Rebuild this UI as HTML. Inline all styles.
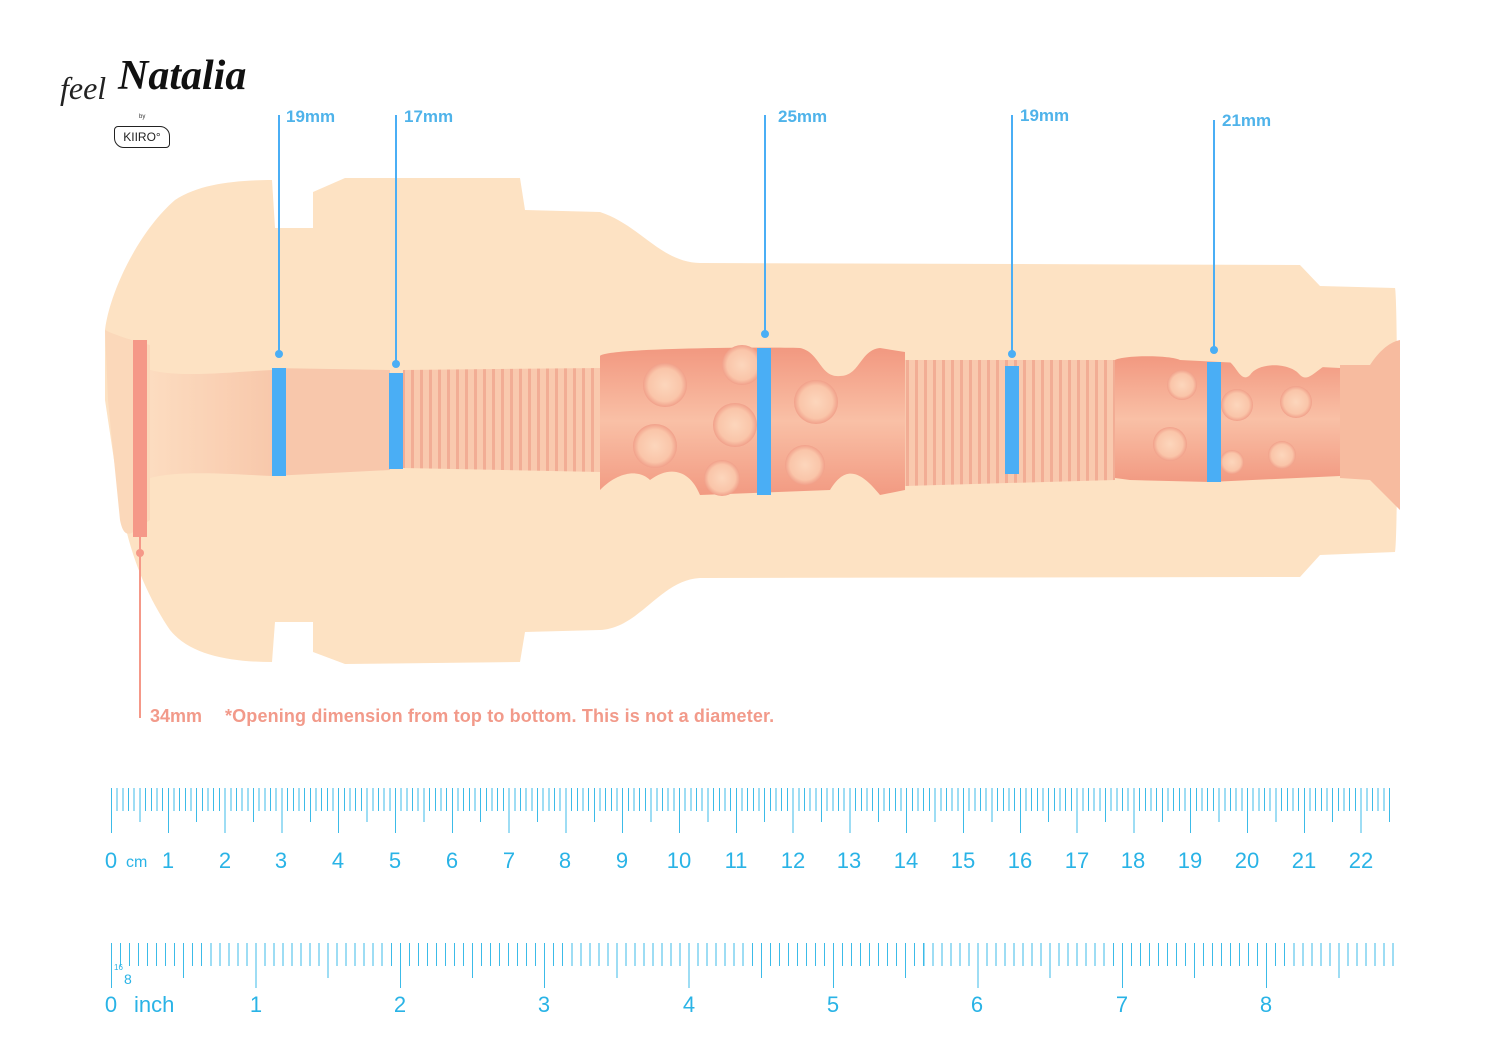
<!DOCTYPE html>
<html><head><meta charset="utf-8"><style>
body{margin:0;background:#fff;width:1500px;height:1063px;position:relative;overflow:hidden;font-family:"Liberation Sans",sans-serif}
.r{position:absolute}
.lbl{position:absolute;color:#4fb3ea;font-size:17px;font-weight:bold}
.num{position:absolute;color:#29b3e6;font-size:22px;transform:translateX(-50%)}
</style></head><body>
<svg class="r" style="left:0;top:0" width="1500" height="760">
<defs>
<linearGradient id="ch" x1="0" y1="0" x2="0" y2="1">
<stop offset="0" stop-color="#f29880"/><stop offset="0.5" stop-color="#f9c0a6"/><stop offset="1" stop-color="#f29a82"/></linearGradient>
<radialGradient id="bp"><stop offset="0" stop-color="#fcd6bc"/><stop offset="0.75" stop-color="#fac5a9"/><stop offset="1" stop-color="#f1a08a"/></radialGradient>
<pattern id="rib" width="9" height="10" patternUnits="userSpaceOnUse"><rect width="9" height="10" fill="#f9c9ae"/><rect x="6" width="3" height="10" fill="#f2ad95"/></pattern>
<linearGradient id="mouth" x1="0" y1="0" x2="1" y2="0"><stop offset="0" stop-color="#fcdcc0"/><stop offset="1" stop-color="#f8c8ab"/></linearGradient>
</defs>
<path fill="#fde2c3" d="M105,330 C110,290 140,230 175,200 C200,183 240,180 272,180 L275,228 L313,228 L313,192 L345,178 L520,178 L525,210 L600,212 C640,225 660,262 700,263 L1300,265 L1320,286 L1395,288 C1398,300 1398,540 1395,552 L1320,555 L1300,577 L700,578 C660,580 640,628 600,630 L525,632 L520,662 L345,664 L313,652 L313,622 L275,622 L272,662 C230,662 190,655 170,630 C150,600 130,560 120,500 L105,400 Z"/>
<path fill="url(#mouth)" d="M150,370 C180,378 230,372 272,370 L272,476 C230,474 180,470 150,478 Z"/>
<path fill="#f8c7ab" d="M272,368 L390,370 L390,470 L272,476 Z"/>
<path fill="url(#rib)" d="M403,370 L600,368 L600,472 L403,468 Z"/>
<path fill="url(#ch)" d="M600,356 C605,348 760,347 800,348 C820,352 820,378 840,376 C860,376 860,350 880,348 L905,352 L905,490 L880,495 C860,470 845,465 830,490 L700,495 C690,470 670,465 650,480 C640,470 620,470 600,490 Z"/>
<path fill="url(#rib)" d="M905,360 L1115,360 L1115,480 L905,486 Z"/>
<path fill="url(#ch)" d="M1115,360 C1125,355 1170,355 1180,360 L1340,368 L1340,476 L1210,482 L1130,480 L1115,478 Z"/>
<path fill="#f7bb9f" d="M1340,365 L1370,365 C1380,350 1390,342 1400,340 L1400,510 C1390,500 1380,490 1370,480 L1340,478 Z"/>
<path fill="#fde2c3" d="M1225,360 C1235,360 1240,385 1250,375 C1258,362 1290,362 1300,375 C1310,385 1320,362 1340,360 L1340,356 L1225,356 Z"/>
<g fill="url(#bp)">
<circle cx="665" cy="385" r="22"/><circle cx="735" cy="425" r="22"/><circle cx="655" cy="446" r="22"/><circle cx="742" cy="365" r="20"/><circle cx="722" cy="478" r="18"/>
<circle cx="816" cy="402" r="22"/><circle cx="805" cy="465" r="20"/>
<circle cx="1182" cy="385" r="15"/><circle cx="1170" cy="444" r="17"/><circle cx="1237" cy="405" r="16"/><circle cx="1296" cy="402" r="16"/><circle cx="1282" cy="455" r="14"/><circle cx="1232" cy="462" r="12"/>
</g>
<path fill="#fbd8ba" d="M105,330 C115,335 130,340 150,345 L150,520 C135,530 125,545 120,520 L108,400 Z"/>
<rect x="133" y="340" width="14" height="197" fill="#f59888"/>
<line x1="140" y1="537" x2="140" y2="718" stroke="#f59888" stroke-width="2"/>
<circle cx="140" cy="553" r="4" fill="#f59888"/>
<g fill="#4aaef5">
<rect x="272" y="368" width="14" height="108"/><rect x="389" y="373" width="14" height="96"/><rect x="757" y="348" width="14" height="147"/><rect x="1005" y="366" width="14" height="108"/><rect x="1207" y="362" width="14" height="120"/>
<circle cx="279" cy="354" r="4"/><circle cx="396" cy="364" r="4"/><circle cx="765" cy="334" r="4"/><circle cx="1012" cy="354" r="4"/><circle cx="1214" cy="350" r="4"/>
</g>
<g stroke="#4aaef5" stroke-width="2">
<line x1="279" y1="115" x2="279" y2="354"/><line x1="396" y1="115" x2="396" y2="364"/><line x1="765" y1="115" x2="765" y2="334"/><line x1="1012" y1="115" x2="1012" y2="354"/><line x1="1214" y1="120" x2="1214" y2="350"/>
</g>
</svg>
<div class="lbl" style="left:286px;top:107px">19mm</div>
<div class="lbl" style="left:404px;top:107px">17mm</div>
<div class="lbl" style="left:778px;top:107px">25mm</div>
<div class="lbl" style="left:1020px;top:106px">19mm</div>
<div class="lbl" style="left:1222px;top:111px">21mm</div>
<div class="r" style="left:150px;top:706px;color:#f29a8a;font-size:18px;font-weight:bold">34mm</div>
<div class="r" style="left:225px;top:706px;color:#f29a8a;font-size:18px;font-weight:bold;letter-spacing:0.15px">*Opening dimension from top to bottom. This is not a diameter.</div>
<div class="r" style="left:60px;top:70px;font-family:'Liberation Serif',serif;font-style:italic;font-size:32px;color:#222">feel</div>
<div class="r" style="left:118px;top:52px;font-family:'Liberation Serif',serif;font-style:italic;font-weight:bold;font-size:42px;color:#111">Natalia</div>
<div class="r" style="left:139px;top:114px;font-size:6px;color:#333">by</div>
<div class="r" style="left:114px;top:126px;width:54px;height:20px;border:1.5px solid #222;border-radius:4px 10px;font-size:12px;text-align:center;line-height:20px;color:#222">KIIRO°</div>
<div class="r" style="left:111px;top:788px;width:1281px;height:45px;
background:
repeating-linear-gradient(90deg,#3cbbe8 0 1px,transparent 1px 56.8px) 0 0/100% 45px no-repeat,
repeating-linear-gradient(90deg,#3cbbe8 0 1px,transparent 1px 28.4px) 0 0/100% 34px no-repeat,
repeating-linear-gradient(90deg,#3cbbe8 0 1px,transparent 1px 5.68px) 0 0/100% 23px no-repeat"></div>
<div class="num" style="left:111px;top:848px">0</div>
<div class="r" style="left:126px;top:854px;color:#29b3e6;font-size:16px">cm</div>
<div class="num" style="left:168px;top:848px">1</div><div class="num" style="left:225px;top:848px">2</div><div class="num" style="left:281px;top:848px">3</div><div class="num" style="left:338px;top:848px">4</div><div class="num" style="left:395px;top:848px">5</div><div class="num" style="left:452px;top:848px">6</div><div class="num" style="left:509px;top:848px">7</div><div class="num" style="left:565px;top:848px">8</div><div class="num" style="left:622px;top:848px">9</div><div class="num" style="left:679px;top:848px">10</div><div class="num" style="left:736px;top:848px">11</div><div class="num" style="left:793px;top:848px">12</div><div class="num" style="left:849px;top:848px">13</div><div class="num" style="left:906px;top:848px">14</div><div class="num" style="left:963px;top:848px">15</div><div class="num" style="left:1020px;top:848px">16</div><div class="num" style="left:1077px;top:848px">17</div><div class="num" style="left:1133px;top:848px">18</div><div class="num" style="left:1190px;top:848px">19</div><div class="num" style="left:1247px;top:848px">20</div><div class="num" style="left:1304px;top:848px">21</div><div class="num" style="left:1361px;top:848px">22</div>
<div class="r" style="left:111px;top:943px;width:1284px;height:45px;
background:
repeating-linear-gradient(90deg,#3cbbe8 0 1px,transparent 1px 144.4px) 0 0/100% 45px no-repeat,
repeating-linear-gradient(90deg,#3cbbe8 0 1px,transparent 1px 72.2px) 0 0/100% 35px no-repeat,
repeating-linear-gradient(90deg,#3cbbe8 0 1px,transparent 1px 9.025px) 0 0/100% 23px no-repeat"></div>
<div class="r" style="left:114px;top:963px;color:#29b3e6;font-size:8px">16</div>
<div class="r" style="left:124px;top:971px;color:#29b3e6;font-size:14px">8</div>
<div class="num" style="left:111px;top:992px">0</div>
<div class="r" style="left:134px;top:992px;color:#29b3e6;font-size:22px">inch</div>
<div class="num" style="left:256px;top:992px">1</div><div class="num" style="left:400px;top:992px">2</div><div class="num" style="left:544px;top:992px">3</div><div class="num" style="left:689px;top:992px">4</div><div class="num" style="left:833px;top:992px">5</div><div class="num" style="left:977px;top:992px">6</div><div class="num" style="left:1122px;top:992px">7</div><div class="num" style="left:1266px;top:992px">8</div>
</body></html>
